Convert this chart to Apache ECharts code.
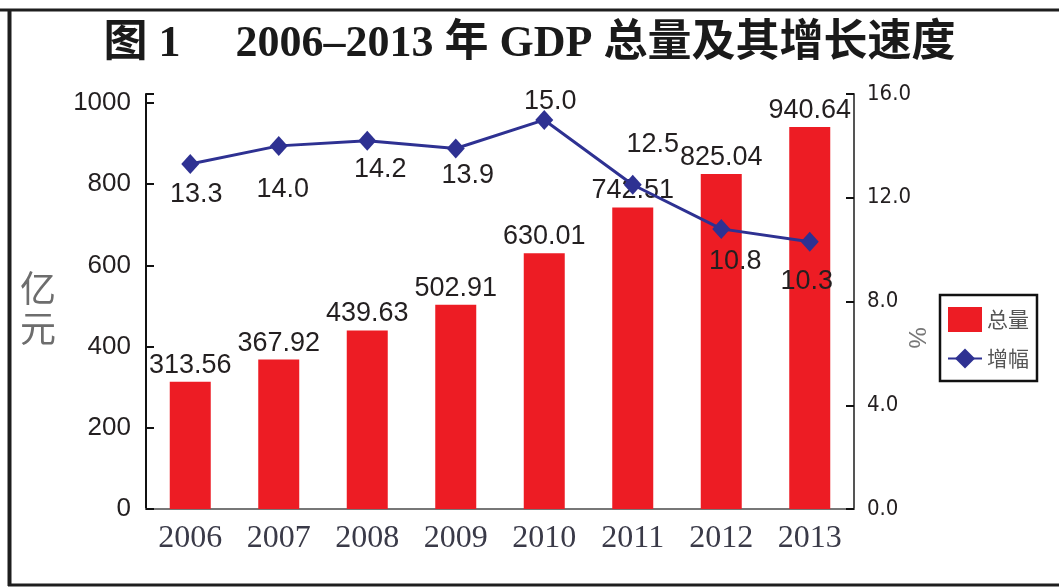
<!DOCTYPE html>
<html>
<head>
<meta charset="utf-8">
<script src="https://cdn.jsdelivr.net/npm/echarts@6/dist/echarts.min.js"></script>
<style>
  html, body { margin: 0; padding: 0; background: #fff; }
  #chart { width: 1059px; height: 588px; }
</style>
</head>
<body>
<div id="chart"></div>
<script>
// 数据
var years = ["2006", "2007", "2008", "2009", "2010", "2011", "2012", "2013"];
var gdpTotal = [313.56, 367.92, 439.63, 502.91, 630.01, 742.51, 825.04, 940.64]; // 亿元
var growthRate = [13.3, 14.0, 14.2, 13.9, 15.0, 12.5, 10.8, 10.3]; // %
var leftTicks = [0, 200, 400, 600, 800, 1000];
var rightTicks = [0, 4, 8, 12, 16];

// 增幅标签偏移（样式）
var rateLabelOffset = [[6, 31], [4, 44], [13, 29], [12, 27], [6, -18], [20, -40], [14, 33], [-3, 40]];

var sans = "'Liberation Sans', Arial, sans-serif";
var serif = "'Liberation Serif', 'Times New Roman', serif";
var textColor = "#231f20";

var chart = echarts.init(document.getElementById("chart"));

chart.setOption({
  animation: false,
  backgroundColor: "#fff",
  title: {
    text: "图 1\u3000 2006–2013 年 GDP 总量及其增长速度",
    left: "center",
    top: 18,
    textStyle: {
      fontFamily: "'Liberation Serif', 'Noto Sans CJK SC', serif",
      fontWeight: "bold",
      fontSize: 44,
      color: "#1a1a1a",
    },
  },
  legend: {
    orient: "vertical",
    left: 940,
    top: 295,
    padding: [12, 8, 12, 7],
    borderColor: "#111",
    borderWidth: 2.5,
    itemWidth: 34,
    itemHeight: 25,
    itemGap: 16,
    textStyle: {
      fontFamily: "'Noto Sans CJK SC', sans-serif",
      fontSize: 21,
      color: "#555",
    },
    data: [{ name: "总量", icon: "rect" }, { name: "增幅" }],
  },
  grid: {
    left: 146,
    top: 94,
    width: 708,
    height: 415,
  },
  xAxis: {
    type: "category",
    data: years,
    axisLine: { lineStyle: { color: "#777", width: 2 } },
    axisTick: {
      inside: true,
      length: 8,
      lineStyle: { color: "#222", width: 2 },
    },
    axisLabel: {
      margin: 14,
      fontFamily: serif,
      fontSize: 32,
      color: "#3a3a48",
    },
  },
  yAxis: [
    {
      type: "value",
      min: 0,
      max: 1022,
      interval: 200,
      splitLine: { show: false },
      axisLine: { show: true, lineStyle: { color: "#111", width: 2 } },
      axisTick: {
        show: true,
        inside: true,
        length: 8,
        lineStyle: { color: "#111", width: 2 },
      },
      axisLabel: {
        margin: 15,
        fontFamily: sans,
        fontSize: 26,
        color: textColor,
        formatter: function (v) {
          return leftTicks.indexOf(v) > -1 ? String(v) : "";
        },
      },
    },
    {
      type: "value",
      min: 0,
      max: 16,
      interval: 4,
      splitLine: { show: false },
      axisLine: { show: true, lineStyle: { color: "#555", width: 2 } },
      axisTick: {
        show: true,
        inside: true,
        length: 8,
        lineStyle: { color: "#111", width: 2 },
      },
      axisLabel: {
        margin: 13,
        fontFamily: "'DejaVu Sans Condensed', 'Liberation Sans Narrow', " + sans,
        fontSize: 22,
        color: textColor,
        padding: [8, 0, 0, 0],
        formatter: function (v) {
          return rightTicks.indexOf(v) > -1 ? v.toFixed(1) : "";
        },
      },
    },
  ],
  series: [
    {
      name: "总量",
      type: "bar",
      barWidth: 41,
      yAxisIndex: 0,
      itemStyle: { color: "#ed1c24" },
      label: {
        show: true,
        position: "top",
        distance: 3,
        fontFamily: sans,
        fontSize: 27,
        color: textColor,
        formatter: function (p) {
          return p.value.toFixed(2);
        },
      },
      data: gdpTotal,
    },
    {
      name: "增幅",
      type: "line",
      yAxisIndex: 1,
      z: 5,
      symbol: "diamond",
      symbolSize: [18, 20],
      lineStyle: { color: "#2e3192", width: 3 },
      itemStyle: { color: "#2e3192" },
      label: {
        show: true,
        position: "inside",
        fontFamily: sans,
        fontSize: 27,
        color: textColor,
        formatter: function (p) {
          return p.value.toFixed(1);
        },
      },
      data: growthRate.map(function (v, i) {
        return { value: v, label: { offset: rateLabelOffset[i] } };
      }),
    },
  ],
  graphic: [
    // 外框
    { type: "line", shape: { x1: 0, y1: 10, x2: 1059, y2: 10 }, style: { stroke: "#1e1e1e", lineWidth: 3 } },
    { type: "line", shape: { x1: 9.5, y1: 9, x2: 9.5, y2: 586 }, style: { stroke: "#1e1e1e", lineWidth: 4 } },
    { type: "line", shape: { x1: 8, y1: 585, x2: 1059, y2: 585 }, style: { stroke: "#1e1e1e", lineWidth: 3 } },
    // 轴名
    {
      type: "text",
      left: 20,
      top: 268,
      style: {
        text: "亿\n元",
        fontFamily: "'Noto Sans CJK SC', sans-serif",
        fontSize: 36,
        lineHeight: 40,
        fill: "#6d6d6d",
      },
    },
    {
      type: "text",
      x: 916,
      y: 338,
      rotation: -Math.PI / 2,
      style: {
        text: "%",
        fontFamily: sans,
        fontSize: 24,
        fill: "#777",
        textAlign: "center",
        textVerticalAlign: "middle",
      },
    },
  ],
});
</script>
</body>
</html>
